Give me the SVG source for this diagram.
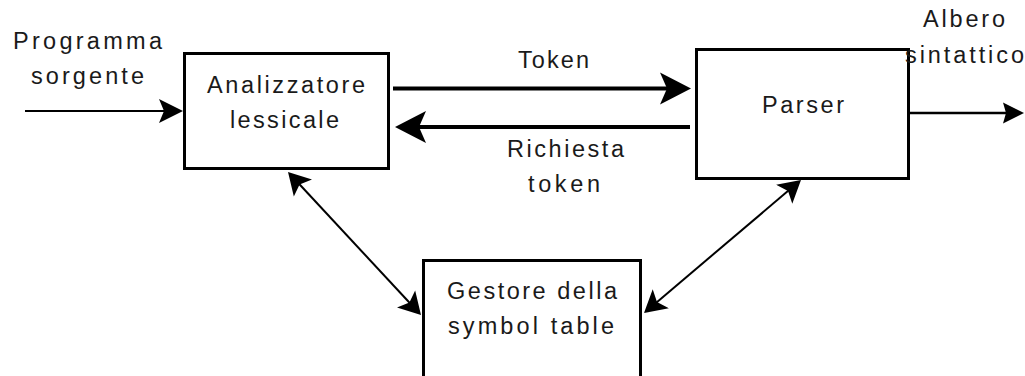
<svg xmlns="http://www.w3.org/2000/svg" width="1025" height="376" viewBox="0 0 1025 376">
  <style>
    .box { fill: #ffffff; stroke: #000000; stroke-width: 3; }
    .lbl { font-family: "Liberation Sans", Arial, sans-serif; font-size: 23.5px; fill: #1a1a1a; }
    .link { fill: none; stroke: #000000; stroke-linecap: butt; }
    .thin { stroke-width: 2; }
    .mid { stroke-width: 2.5; }
    .thick { stroke-width: 4; }
  </style>
  <defs>
    <!-- notched filled arrowheads; the tip sits half a head-length past the path end -->
    <marker id="headXL" markerUnits="userSpaceOnUse" viewBox="0 -17 32 34" markerWidth="32" markerHeight="34" refX="16" refY="0" orient="auto-start-reverse">
      <path d="M31,0 L0,-16 L7,0 L0,16 Z" fill="#000"/>
    </marker>
    <marker id="headM" markerUnits="userSpaceOnUse" viewBox="0 -13 25 26" markerWidth="25" markerHeight="26" refX="12" refY="0" orient="auto-start-reverse">
      <path d="M24,0 L0,-12 L5,0 L0,12 Z" fill="#000"/>
    </marker>
    <marker id="headS" markerUnits="userSpaceOnUse" viewBox="0 -11 22 22" markerWidth="22" markerHeight="22" refX="10" refY="0" orient="auto-start-reverse">
      <path d="M21,0 L0,-10.5 L3,0 L0,10.5 Z" fill="#000"/>
    </marker>
    <marker id="headD" markerUnits="userSpaceOnUse" viewBox="0 -13 23 26" markerWidth="23" markerHeight="26" refX="11" refY="0" orient="auto-start-reverse">
      <path d="M22,0 L0,-12.5 L5,0 L0,12.5 Z" fill="#000"/>
    </marker>
  </defs>

  <rect width="1025" height="376" fill="#ffffff"/>

  <!-- connectors -->
  <g id="connectors">
    <path id="in-source" class="link thin" d="M25,111 L171,111" marker-end="url(#headM)"/>
    <path id="token" class="link thick" d="M393,88.5 L676,88.5" marker-end="url(#headXL)"/>
    <path id="token-request" class="link thick" d="M690,127 L410,127" marker-end="url(#headXL)"/>
    <path id="out-tree" class="link mid" d="M909,113 L1013,113" marker-end="url(#headS)"/>
    <path id="lexer-symtab" class="link thin" d="M295.5,180 L413.5,307" marker-start="url(#headD)" marker-end="url(#headD)"/>
    <path id="parser-symtab" class="link thin" d="M792.6,187.1 L652.4,305.9" marker-start="url(#headD)" marker-end="url(#headD)"/>
  </g>

  <!-- nodes -->
  <g id="lexer">
    <rect class="box" x="184.5" y="53.5" width="204" height="115"/>
    <text class="lbl" x="207" y="93" textLength="158" lengthAdjust="spacing">Analizzatore</text>
    <text class="lbl" x="230" y="128" textLength="109" lengthAdjust="spacing">lessicale</text>
  </g>

  <g id="parser">
    <rect class="box" x="696.5" y="49.5" width="212" height="129"/>
    <text class="lbl" x="762" y="113" textLength="82" lengthAdjust="spacing">Parser</text>
  </g>

  <g id="symtab">
    <rect class="box" x="423.5" y="260.5" width="217" height="130"/>
    <text class="lbl" x="447" y="299" textLength="170" lengthAdjust="spacing">Gestore della</text>
    <text class="lbl" x="448" y="334" textLength="166" lengthAdjust="spacing">symbol table</text>
  </g>

  <!-- edge labels -->
  <g id="labels">
    <text class="lbl" x="13" y="49" textLength="149" lengthAdjust="spacing">Programma</text>
    <text class="lbl" x="31" y="84" textLength="113" lengthAdjust="spacing">sorgente</text>
    <text class="lbl" x="518" y="68" textLength="71" lengthAdjust="spacing">Token</text>
    <text class="lbl" x="507" y="157" textLength="117" lengthAdjust="spacing">Richiesta</text>
    <text class="lbl" x="528" y="192" textLength="72" lengthAdjust="spacing">token</text>
    <text class="lbl" x="923" y="27" textLength="82" lengthAdjust="spacing">Albero</text>
    <text class="lbl" x="905" y="63" textLength="119" lengthAdjust="spacing">sintattico</text>
  </g>
</svg>
